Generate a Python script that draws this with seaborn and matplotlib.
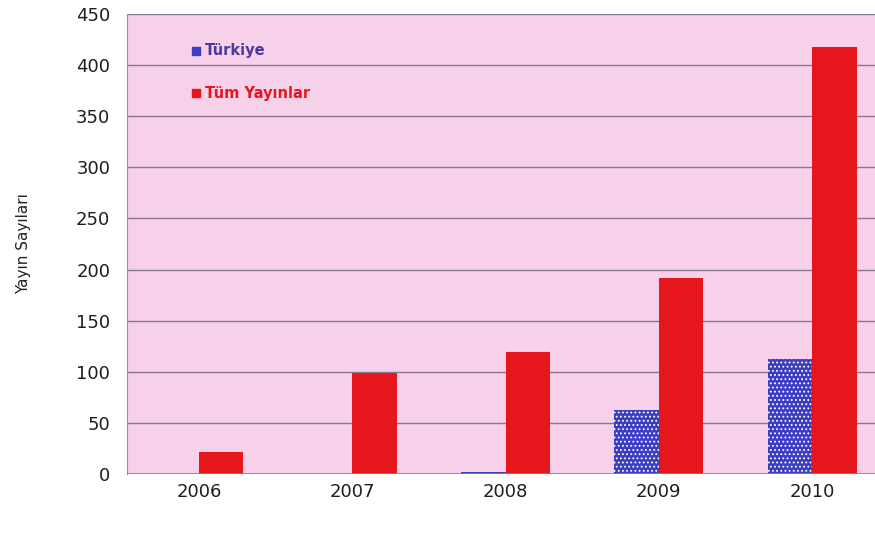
import pandas as pd
import numpy as np
import matplotlib.pyplot as plt
import seaborn as sns

years = ['2006', '2007', '2008', '2009', '2010']
turkiye = [0, 0, 2, 63, 113]
tum_yayinlar = [22, 99, 119, 192, 418]
series_names = ['Türkiye', 'Tüm Yayınlar']
y_ticks = [0, 50, 100, 150, 200, 250, 300, 350, 400, 450]

df = pd.DataFrame({
    'Yıl': years * 2,
    'Sayı': turkiye + tum_yayinlar,
    'Seri': [series_names[0]] * len(years) + [series_names[1]] * len(years),
})

sns.set_style('white')
plt.rcParams['font.family'] = ['DejaVu Sans']
plt.rcParams['hatch.color'] = '#1c1c80'
plt.rcParams['hatch.linewidth'] = 0.8

fig = plt.figure(figsize=(8.75, 5.34), dpi=100)
ax = fig.add_axes([0.145, 0.112, 0.855, 0.862])
ax.set_facecolor('#f7d0ea')

colors = {'Türkiye': '#3d3dc4', 'Tüm Yayınlar': '#e6161d'}
sns.barplot(data=df, x='Yıl', y='Sayı', hue='Seri', palette=colors,
            width=0.58, saturation=1, ax=ax, legend=False)

for bar in ax.patches[:len(years)]:
    bar.set_hatch('....')
for bar in ax.patches:
    bar.set_linewidth(0)

ax.set_ylim(0, 450)
ax.set_xlim(-0.47, 4.41)
ax.set_yticks(y_ticks)
ax.yaxis.grid(True, color='#85788f', linewidth=1)
ax.set_axisbelow(True)
ax.set_xlabel('')
ax.set_ylabel('Yayın Sayıları', fontsize=11, color='#222222', labelpad=32)

for s in ['top', 'right', 'bottom']:
    ax.spines[s].set_visible(False)
ax.spines['left'].set_color('#9a8aa8')
ax.tick_params(axis='y', length=6, color='#9a8aa8', labelsize=13, labelcolor='#1e1e1e', pad=6)
ax.tick_params(axis='x', length=0, labelsize=13, labelcolor='#1e1e1e', pad=6)
ax.axhline(0, color='#8c7f98', linewidth=1.2)

# legend as colored squares with colored text
for i, name in enumerate(series_names):
    yy = 0.92 - i * 0.092
    ax.scatter([0.092], [yy], marker='s', s=36, color=colors[name],
               transform=ax.transAxes, clip_on=False, zorder=5)
    ax.text(0.104, yy, name, transform=ax.transAxes, va='center', ha='left',
            fontsize=10.5, fontweight='bold', color=colors[name] if i else '#4a3a9a')

fig.savefig('out.png', dpi=100)
